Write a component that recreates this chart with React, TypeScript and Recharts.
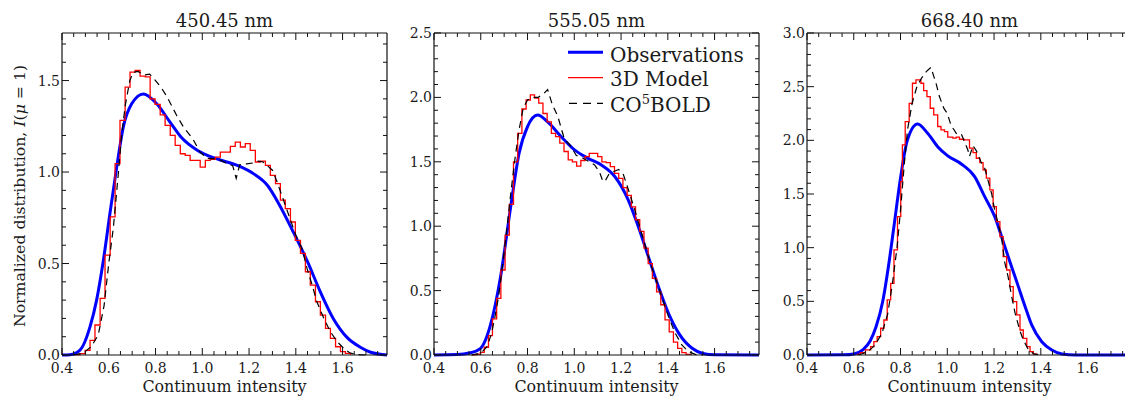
import React from 'react';
import { LineChart, Line, XAxis, YAxis, Legend } from 'recharts';

const FONT = "'DejaVu Serif', serif";
const TXT = '#1a1a1a';

// ---------- tick labels ----------
const xTicks = [0.4, 0.45, 0.5, 0.55, 0.6, 0.65, 0.7, 0.75, 0.8, 0.85, 0.9, 0.95, 1.0, 1.05, 1.1, 1.15, 1.2, 1.25, 1.3, 1.35, 1.4, 1.45, 1.5, 1.55, 1.6, 1.65, 1.7, 1.75];
const xMajor = [0.4, 0.6, 0.8, 1.0, 1.2, 1.4, 1.6];
const yTicks450 = [0, 0.1, 0.2, 0.3, 0.4, 0.5, 0.6, 0.7, 0.8, 0.9, 1.0, 1.1, 1.2, 1.3, 1.4, 1.5, 1.6, 1.7];
const yMajor450 = [0, 0.5, 1.0, 1.5];
const yTicks555 = [0, 0.1, 0.2, 0.3, 0.4, 0.5, 0.6, 0.7, 0.8, 0.9, 1.0, 1.1, 1.2, 1.3, 1.4, 1.5, 1.6, 1.7, 1.8, 1.9, 2.0, 2.1, 2.2, 2.3, 2.4, 2.5];
const yMajor555 = [0, 0.5, 1.0, 1.5, 2.0, 2.5];
const yTicks668 = [0, 0.1, 0.2, 0.3, 0.4, 0.5, 0.6, 0.7, 0.8, 0.9, 1.0, 1.1, 1.2, 1.3, 1.4, 1.5, 1.6, 1.7, 1.8, 1.9, 2.0, 2.1, 2.2, 2.3, 2.4, 2.5, 2.6, 2.7, 2.8, 2.9, 3.0];
const yMajor668 = [0, 0.5, 1.0, 1.5, 2.0, 2.5, 3.0];

const titles = ['450.45 nm', '555.05 nm', '668.40 nm'];
const xLabel = 'Continuum intensity';
const seriesNames = ['Observations', '3D Model', 'CO5BOLD'];

// ---------- 450.45 nm ----------
const obs450 = [[0.40, 0], [0.434, 0.002], [0.477, 0.027], [0.52, 0.155], [0.548, 0.30], [0.577, 0.518], [0.605, 0.773], [0.634, 1.027], [0.662, 1.245], [0.698, 1.373], [0.748, 1.427], [0.805, 1.373], [0.862, 1.273], [0.91, 1.19], [0.98, 1.118], [1.06, 1.073], [1.15, 1.036], [1.22, 0.99], [1.28, 0.925], [1.33, 0.82], [1.39, 0.67], [1.45, 0.51], [1.505, 0.345], [1.56, 0.2], [1.62, 0.095], [1.68, 0.04], [1.72, 0.015], [1.79, 0]];
const model450 = [[0.456, 0.002], [0.477, 0.008], [0.499, 0.025], [0.520, 0.08], [0.541, 0.164], [0.563, 0.309], [0.584, 0.546], [0.606, 0.755], [0.627, 1.046], [0.648, 1.282], [0.670, 1.464], [0.691, 1.546], [0.713, 1.555], [0.734, 1.524], [0.756, 1.52], [0.777, 1.40], [0.798, 1.37], [0.820, 1.313], [0.841, 1.255], [0.863, 1.20], [0.884, 1.146], [0.906, 1.10], [0.927, 1.091], [0.948, 1.064], [0.970, 1.064], [0.991, 1.027], [1.013, 1.064], [1.034, 1.07], [1.056, 1.082], [1.077, 1.109], [1.098, 1.109], [1.120, 1.140], [1.141, 1.164], [1.163, 1.137], [1.184, 1.155], [1.205, 1.118], [1.227, 1.055], [1.248, 1.06], [1.270, 1.036], [1.291, 0.982], [1.313, 0.937], [1.334, 0.846], [1.355, 0.80], [1.377, 0.727], [1.398, 0.627], [1.420, 0.555], [1.441, 0.455], [1.462, 0.382], [1.484, 0.291], [1.505, 0.218], [1.527, 0.145], [1.548, 0.091], [1.570, 0.045], [1.591, 0.018], [1.612, 0.009], [1.634, 0]];
const co5bold450 = [[0.45, 0], [0.49, 0.01], [0.525, 0.045], [0.555, 0.11], [0.58, 0.27], [0.60, 0.50], [0.62, 0.70], [0.64, 0.98], [0.655, 1.2], [0.67, 1.36], [0.69, 1.50], [0.705, 1.545], [0.725, 1.55], [0.75, 1.53], [0.775, 1.535], [0.80, 1.50], [0.825, 1.46], [0.85, 1.41], [0.89, 1.31], [0.92, 1.245], [0.96, 1.18], [0.99, 1.11], [1.02, 1.075], [1.07, 1.07], [1.10, 1.05], [1.13, 1.035], [1.145, 0.965], [1.16, 1.04], [1.19, 1.045], [1.22, 1.05], [1.24, 1.06], [1.26, 1.055], [1.30, 1.01], [1.32, 0.946], [1.34, 0.873], [1.37, 0.764], [1.40, 0.655], [1.427, 0.58], [1.448, 0.473], [1.47, 0.382], [1.49, 0.291], [1.52, 0.2], [1.548, 0.127], [1.577, 0.073], [1.605, 0.036], [1.63, 0.012], [1.66, 0.002], [1.70, 0]];

// ---------- 555.05 nm ----------
const obs555 = [[0.40, 0], [0.50, 0.003], [0.55, 0.015], [0.598, 0.05], [0.641, 0.23], [0.684, 0.60], [0.728, 1.15], [0.764, 1.566], [0.80, 1.773], [0.843, 1.863], [0.886, 1.81], [0.944, 1.695], [1.001, 1.592], [1.059, 1.527], [1.116, 1.475], [1.174, 1.384], [1.231, 1.203], [1.274, 0.996], [1.317, 0.763], [1.36, 0.53], [1.403, 0.324], [1.447, 0.168], [1.504, 0.052], [1.55, 0.012], [1.60, 0.002], [1.79, 0]];
const model555 = [[0.562, 0.002], [0.58, 0.005], [0.598, 0.02], [0.615, 0.06], [0.633, 0.15], [0.65, 0.28], [0.668, 0.44], [0.686, 0.66], [0.704, 0.93], [0.722, 1.17], [0.74, 1.50], [0.758, 1.72], [0.776, 1.91], [0.794, 1.98], [0.812, 2.02], [0.83, 1.995], [0.848, 1.955], [0.866, 1.875], [0.884, 1.81], [0.902, 1.72], [0.92, 1.695], [0.938, 1.645], [0.956, 1.58], [0.974, 1.515], [0.992, 1.50], [1.01, 1.467], [1.028, 1.51], [1.046, 1.54], [1.064, 1.566], [1.082, 1.566], [1.10, 1.54], [1.118, 1.50], [1.136, 1.493], [1.154, 1.462], [1.172, 1.41], [1.19, 1.372], [1.208, 1.30], [1.226, 1.24], [1.244, 1.15], [1.262, 1.05], [1.28, 0.96], [1.298, 0.83], [1.316, 0.71], [1.334, 0.595], [1.352, 0.49], [1.37, 0.39], [1.388, 0.272], [1.406, 0.18], [1.424, 0.10], [1.442, 0.052], [1.46, 0.018], [1.478, 0.005], [1.496, 0]];
const co5bold555 = [[0.56, 0], [0.60, 0.015], [0.625, 0.06], [0.645, 0.16], [0.66, 0.29], [0.676, 0.45], [0.692, 0.68], [0.71, 0.95], [0.728, 1.25], [0.746, 1.52], [0.764, 1.75], [0.782, 1.92], [0.80, 1.98], [0.82, 2.0], [0.845, 2.0], [0.87, 2.03], [0.886, 2.06], [0.905, 1.95], [0.93, 1.85], [0.957, 1.68], [0.986, 1.62], [1.008, 1.55], [1.037, 1.527], [1.065, 1.50], [1.087, 1.475], [1.108, 1.42], [1.12, 1.36], [1.13, 1.345], [1.15, 1.41], [1.19, 1.44], [1.21, 1.40], [1.225, 1.32], [1.259, 1.125], [1.288, 0.945], [1.317, 0.763], [1.345, 0.608], [1.374, 0.453], [1.403, 0.298], [1.432, 0.168], [1.46, 0.078], [1.489, 0.026], [1.52, 0.003], [1.55, 0]];

// ---------- 668.40 nm ----------
const obs668 = [[0.40, 0], [0.56, 0.002], [0.60, 0.01], [0.64, 0.05], [0.67, 0.13], [0.695, 0.26], [0.724, 0.50], [0.75, 0.85], [0.772, 1.2], [0.80, 1.65], [0.829, 2.0], [0.873, 2.153], [0.916, 2.066], [0.959, 1.941], [1.002, 1.855], [1.06, 1.78], [1.117, 1.662], [1.16, 1.475], [1.203, 1.289], [1.246, 1.01], [1.275, 0.823], [1.304, 0.637], [1.333, 0.45], [1.361, 0.28], [1.404, 0.124], [1.447, 0.047], [1.49, 0.01], [1.548, 0], [1.79, 0]];
const model668 = [[0.613, 0.005], [0.628, 0.022], [0.65, 0.047], [0.672, 0.078], [0.686, 0.124], [0.70, 0.171], [0.715, 0.249], [0.729, 0.326], [0.743, 0.513], [0.758, 0.668], [0.772, 0.979], [0.787, 1.289], [0.801, 1.616], [0.808, 1.957], [0.82, 2.175], [0.837, 2.345], [0.851, 2.532], [0.866, 2.563], [0.887, 2.532], [0.899, 2.464], [0.913, 2.408], [0.927, 2.299], [0.942, 2.237], [0.959, 2.129], [0.973, 2.097], [0.988, 2.082], [1.002, 2.029], [1.024, 2.02], [1.038, 2.029], [1.052, 2.01], [1.071, 2.004], [1.095, 1.927], [1.11, 1.886], [1.124, 1.833], [1.139, 1.793], [1.153, 1.725], [1.167, 1.647], [1.182, 1.538], [1.196, 1.383], [1.21, 1.243], [1.225, 1.103], [1.239, 0.917], [1.254, 0.792], [1.268, 0.637], [1.282, 0.497], [1.297, 0.373], [1.311, 0.233], [1.325, 0.155], [1.34, 0.078], [1.354, 0.031], [1.368, 0.009], [1.383, 0]];
const co5bold668 = [[0.62, 0], [0.66, 0.03], [0.69, 0.09], [0.72, 0.2], [0.745, 0.38], [0.765, 0.66], [0.785, 1.0], [0.80, 1.35], [0.815, 1.75], [0.83, 2.1], [0.85, 2.35], [0.87, 2.5], [0.89, 2.58], [0.91, 2.64], [0.93, 2.68], [0.952, 2.53], [0.966, 2.41], [0.985, 2.3], [1.0, 2.25], [1.016, 2.14], [1.04, 2.06], [1.06, 2.06], [1.088, 1.91], [1.095, 1.85], [1.11, 1.95], [1.125, 1.9], [1.146, 1.79], [1.16, 1.74], [1.175, 1.62], [1.19, 1.50], [1.2, 1.38], [1.22, 1.2], [1.232, 1.1], [1.246, 0.86], [1.26, 0.73], [1.275, 0.55], [1.29, 0.39], [1.31, 0.23], [1.325, 0.14], [1.347, 0.05], [1.37, 0.01], [1.4, 0]];

const toPts = (arr: number[][]) => arr.map(([x, y]) => ({ x, y }));
const isIn = (arr: number[], v: number) => arr.some((m) => Math.abs(m - v) < 1e-6);

// ---------- layout ----------
const H = 398;
const PLOT_W = 325;
const PLOT_TOP = 33;
const PLOT_BOTTOM = 355;
const RIGHT_W = 10;
const X_DOMAIN: [number, number] = [0.4, 1.79];
const MAJ = 7;
const MIN = 4;
const SPINE = '#111';

const makeBottomTick = () => (p: any) => {
  const { x, y, payload } = p;
  const major = isIn(xMajor, payload.value);
  return (
    <g>
      <line x1={x} x2={x} y1={y} y2={y - (major ? MAJ : MIN)} stroke={SPINE} strokeWidth={1} />
      {major && (
        <text x={x} y={y + 18} textAnchor="middle" fontSize={14} fontFamily={FONT} fill={TXT}>
          {payload.value.toFixed(1)}
        </text>
      )}
    </g>
  );
};
const makeTopTick = () => (p: any) => {
  const { x, y, payload } = p;
  const major = isIn(xMajor, payload.value);
  return <line x1={x} x2={x} y1={y} y2={y + (major ? MAJ : MIN)} stroke={SPINE} strokeWidth={1} />;
};
const makeLeftTick = (majors: number[]) => (p: any) => {
  const { x, y, payload } = p;
  const major = isIn(majors, payload.value);
  return (
    <g>
      <line x1={x} x2={x + (major ? MAJ : MIN)} y1={y} y2={y} stroke={SPINE} strokeWidth={1} />
      {major && (
        <text x={x - 2} y={y + 5} textAnchor="end" fontSize={14} fontFamily={FONT} fill={TXT}>
          {payload.value.toFixed(1)}
        </text>
      )}
    </g>
  );
};
const makeRightTick = (majors: number[]) => (p: any) => {
  const { x, y, payload } = p;
  const major = isIn(majors, payload.value);
  return <line x1={x} x2={x - (major ? MAJ : MIN)} y1={y} y2={y} stroke={SPINE} strokeWidth={1} />;
};

const LegendBox = () => (
  <svg width={200} height={80} style={{ overflow: 'visible' }}>
    <line x1={0} x2={35} y1={14.3} y2={14.3} stroke="#0000ff" strokeWidth={3} />
    <text x={42} y={23.5} fontSize={20} fontFamily={FONT} fill={TXT}>{seriesNames[0]}</text>
    <line x1={0} x2={35} y1={39.7} y2={39.7} stroke="#ff0000" strokeWidth={1.3} />
    <text x={42} y={48} fontSize={20} fontFamily={FONT} fill={TXT}>{seriesNames[1]}</text>
    <line x1={1} x2={35} y1={65.3} y2={65.3} stroke="#000" strokeWidth={1.2} strokeDasharray="8 6" />
    <text x={42} y={73.7} fontSize={20} fontFamily={FONT} fill={TXT}>
      CO<tspan dy={-8} fontSize={13}>5</tspan><tspan dy={8}>BOLD</tspan>
    </text>
  </svg>
);

type PanelProps = {
  plotLeft: number;
  yAxisW: number;
  yMax: number;
  yTicks: number[];
  yMajor: number[];
  obs: number[][];
  model: number[][];
  co5: number[][];
  showLegend?: boolean;
};

function Panel({ plotLeft, yAxisW, yMax, yTicks, yMajor, obs, model, co5, showLegend }: PanelProps) {
  const W = yAxisW + PLOT_W + RIGHT_W;
  const axisLine = { stroke: SPINE, strokeWidth: 1.2 };
  return (
    <div style={{ position: 'absolute', left: plotLeft - yAxisW, top: 0 }}>
      <LineChart width={W} height={H} margin={{ top: 0, right: 0, bottom: 0, left: 0 }}>
        <XAxis xAxisId="b" orientation="bottom" dataKey="x" type="number" domain={X_DOMAIN} ticks={xTicks} interval={0}
          tickSize={0} tickMargin={0} tickLine={false} axisLine={axisLine} tick={makeBottomTick()} height={H - PLOT_BOTTOM} />
        <XAxis xAxisId="t" orientation="top" dataKey="x" type="number" domain={X_DOMAIN} allowDataOverflow ticks={xTicks} interval={0}
          tickSize={0} tickMargin={0} tickLine={false} axisLine={axisLine} tick={makeTopTick()} height={PLOT_TOP} />
        <YAxis yAxisId="l" orientation="left" type="number" domain={[0, yMax]} ticks={yTicks} interval={0}
          tickSize={0} tickMargin={0} tickLine={false} axisLine={axisLine} tick={makeLeftTick(yMajor)} width={yAxisW} />
        <YAxis yAxisId="r" orientation="right" type="number" domain={[0, yMax]} allowDataOverflow ticks={yTicks} interval={0}
          tickSize={0} tickMargin={0} tickLine={false} axisLine={axisLine} tick={makeRightTick(yMajor)} width={RIGHT_W} />
        <Line xAxisId="b" yAxisId="l" data={toPts(obs)} dataKey="y" type="monotone" stroke="#0000ff" strokeWidth={3}
          dot={false} activeDot={false} isAnimationActive={false} name={seriesNames[0]} />
        <Line xAxisId="b" yAxisId="l" data={toPts(model)} dataKey="y" type="stepAfter" stroke="#ff0000" strokeWidth={1.3}
          dot={false} activeDot={false} isAnimationActive={false} name={seriesNames[1]} />
        <Line xAxisId="b" yAxisId="l" data={toPts(co5)} dataKey="y" type="linear" stroke="#000" strokeWidth={1.2}
          strokeDasharray="7 5" dot={false} activeDot={false} isAnimationActive={false} name={seriesNames[2]} />
        {showLegend && (
          <Legend layout="horizontal" verticalAlign="middle" align="center" content={() => <LegendBox />}
            wrapperStyle={{ position: 'absolute', left: 568 - (plotLeft - yAxisW), top: 38, width: 200, height: 80 }} />
        )}
      </LineChart>
    </div>
  );
}

const PLOT_LEFTS = [62, 434, 807];

export default function App() {
  return (
    <div style={{ position: 'absolute', left: 0, top: 0, width: 1125, height: H, overflow: 'hidden', background: '#fff', fontFamily: FONT }}>
      <Panel plotLeft={PLOT_LEFTS[0]} yAxisW={62} yMax={1.76} yTicks={yTicks450} yMajor={yMajor450} obs={obs450} model={model450} co5={co5bold450} />
      <Panel plotLeft={PLOT_LEFTS[1]} yAxisW={40} yMax={2.5} yTicks={yTicks555} yMajor={yMajor555} obs={obs555} model={model555} co5={co5bold555} showLegend />
      <Panel plotLeft={PLOT_LEFTS[2]} yAxisW={40} yMax={3.0} yTicks={yTicks668} yMajor={yMajor668} obs={obs668} model={model668} co5={co5bold668} />
      <svg width={1125} height={H} style={{ position: 'absolute', left: 0, top: 0, pointerEvents: 'none' }}>
        {PLOT_LEFTS.map((l, i) => (
          <g key={i}>
            <text x={l + PLOT_W / 2} y={26.7} textAnchor="middle" fontSize={18} fontFamily={FONT} fill={TXT}>{titles[i]}</text>
            <text x={l + PLOT_W / 2} y={392} textAnchor="middle" fontSize={15.9} fontFamily={FONT} fill={TXT}>{xLabel}</text>
          </g>
        ))}
        <text transform="translate(24.5,196) rotate(-90)" textAnchor="middle" fontSize={15.7} fontFamily={FONT} fill={TXT}>
          Normalized distribution, <tspan fontStyle="italic">I</tspan>(<tspan fontStyle="italic">μ</tspan> = 1)
        </text>
      </svg>
    </div>
  );
}
